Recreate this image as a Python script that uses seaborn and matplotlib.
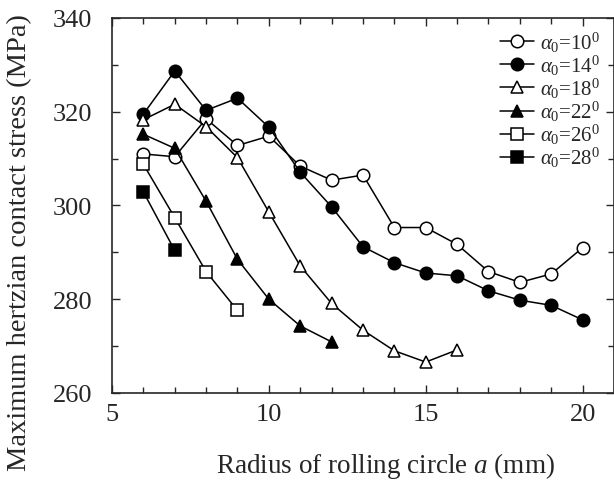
import matplotlib
matplotlib.use("Agg")
import matplotlib.pyplot as plt
import seaborn as sns
from matplotlib.ticker import MultipleLocator

# data
radius_10 = [6, 7, 8, 9, 10, 11, 12, 13, 14, 15, 16, 17, 18, 19, 20]
stress_10 = [311.0, 310.4, 318.5, 312.8, 314.8, 308.4, 305.4, 306.5, 295.3, 295.3, 291.7, 285.9, 283.6, 285.4, 291.0]

radius_14 = [6, 7, 8, 9, 10, 11, 12, 13, 14, 15, 16, 17, 18, 19, 20]
stress_14 = [319.5, 328.7, 320.3, 322.9, 316.7, 307.1, 299.7, 291.2, 287.8, 285.6, 285.0, 281.8, 279.8, 278.7, 275.6]

radius_18 = [6, 7, 8, 9, 10, 11, 12, 13, 14, 15, 16]
stress_18 = [318.3, 321.6, 316.8, 310.2, 298.6, 287.1, 279.1, 273.4, 269.0, 266.6, 269.2]

radius_22 = [6, 7, 8, 9, 10, 11, 12]
stress_22 = [315.2, 312.2, 300.9, 288.5, 280.0, 274.3, 270.9]

radius_26 = [6, 7, 8, 9]
stress_26 = [308.8, 297.4, 285.9, 277.6]

radius_28 = [6, 7]
stress_28 = [302.9, 290.4]

labels = [r'$\alpha_0$=10$^0$', r'$\alpha_0$=14$^0$', r'$\alpha_0$=18$^0$',
          r'$\alpha_0$=22$^0$', r'$\alpha_0$=26$^0$', r'$\alpha_0$=28$^0$']

sns.set_theme(style="ticks")
plt.rcParams['font.family'] = ['Liberation Serif', 'DejaVu Serif']
plt.rcParams['mathtext.fontset'] = 'custom'
plt.rcParams['mathtext.rm'] = 'Liberation Serif'
plt.rcParams['mathtext.it'] = 'Liberation Serif:italic'

fig = plt.figure(figsize=(6.14, 4.81), dpi=100)
ax = fig.add_axes([0.1824, 0.1809, 0.8176, 0.7796])

series = [
    (radius_10, stress_10, 'o', 'white'),
    (radius_14, stress_14, 'o', 'black'),
    (radius_18, stress_18, '^', 'white'),
    (radius_22, stress_22, '^', 'black'),
    (radius_26, stress_26, 's', 'white'),
    (radius_28, stress_28, 's', 'black'),
]

for (x, y, mk, face), lab in zip(series, labels):
    sns.lineplot(x=x, y=y, ax=ax, color='black', lw=1.1, marker=mk,
                 markersize=9, markerfacecolor=face, markeredgecolor='black',
                 markeredgewidth=1.1, label=lab)

ax.set_xlim(5, 21)
ax.set_ylim(260, 340)
ax.set_xticks([5, 10, 15, 20])
ax.set_yticks([260, 280, 300, 320, 340])
ax.xaxis.set_minor_locator(MultipleLocator(1))
ax.yaxis.set_minor_locator(MultipleLocator(10))
ax.tick_params(which='both', direction='in', top=True, right=True, width=1, labelsize=19)
ax.tick_params(which='major', length=6)
ax.tick_params(which='minor', length=4)
ax.tick_params(axis='x', pad=7)
ax.tick_params(axis='y', pad=14)
for s in ax.spines.values():
    s.set_linewidth(1.2)

ax.set_xlabel('Radius of rolling circle $a$ (mm)', fontsize=19.5)
ax.set_ylabel('Maximum hertzian contact stress (MPa)', fontsize=20.5)
ax.xaxis.set_label_coords(0.544, -0.152)
ax.yaxis.set_label_coords(-0.16, 0.405)

leg = ax.legend(loc='upper right', bbox_to_anchor=(0.995, 1.0), frameon=False, fontsize=15,
                handlelength=1.6, handletextpad=0.3, labelspacing=-0.05, borderaxespad=0.15)

fig.savefig('out.png', dpi=100)
